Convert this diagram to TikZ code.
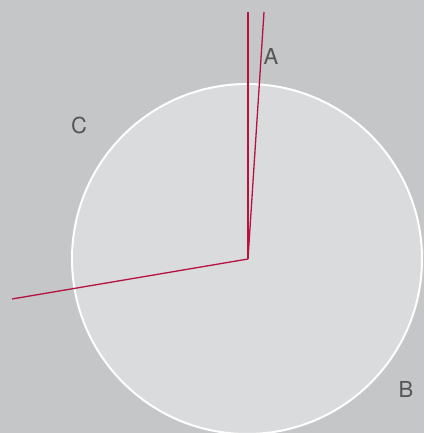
\documentclass[tikz,border=0pt]{standalone}
\usepackage{fontspec}
\setmainfont{TeX Gyre Heros}
\definecolor{bg}{HTML}{C5C6C8}
\definecolor{disc}{HTML}{DADBDD}
\definecolor{ray}{HTML}{B5123F}
\definecolor{lbl}{HTML}{555555}
\begin{document}
\begin{tikzpicture}[x=1pt,y=1pt,
  raystyle/.style={draw=ray,line width=1.3pt},
  lab/.style={text=lbl,font=\fontsize{22}{22}\selectfont,inner sep=0pt}]
\fill[bg] (0,0) rectangle (424,433);
\useasboundingbox (0,0) rectangle (424,433);
\begin{scope}
\clip (0,0) rectangle (424,433);
\draw[fill=disc,draw=white,line width=2pt] (247,174) circle (175);
\end{scope}
\coordinate (O) at (248,174);
\coordinate (P1) at (248,421);
\coordinate (P2) at (264,421);
\coordinate (P3) at (12,134);
\draw[raystyle] (O) -- (P1);
\draw[raystyle] (O) -- (P2);
\draw[raystyle] (O) -- (P3);
\node[lab] (A) at (271,377) {A};
\node[lab] (C) at (79,308) {C};
\node[lab] (B) at (406,44) {B};
\end{tikzpicture}
\end{document}
